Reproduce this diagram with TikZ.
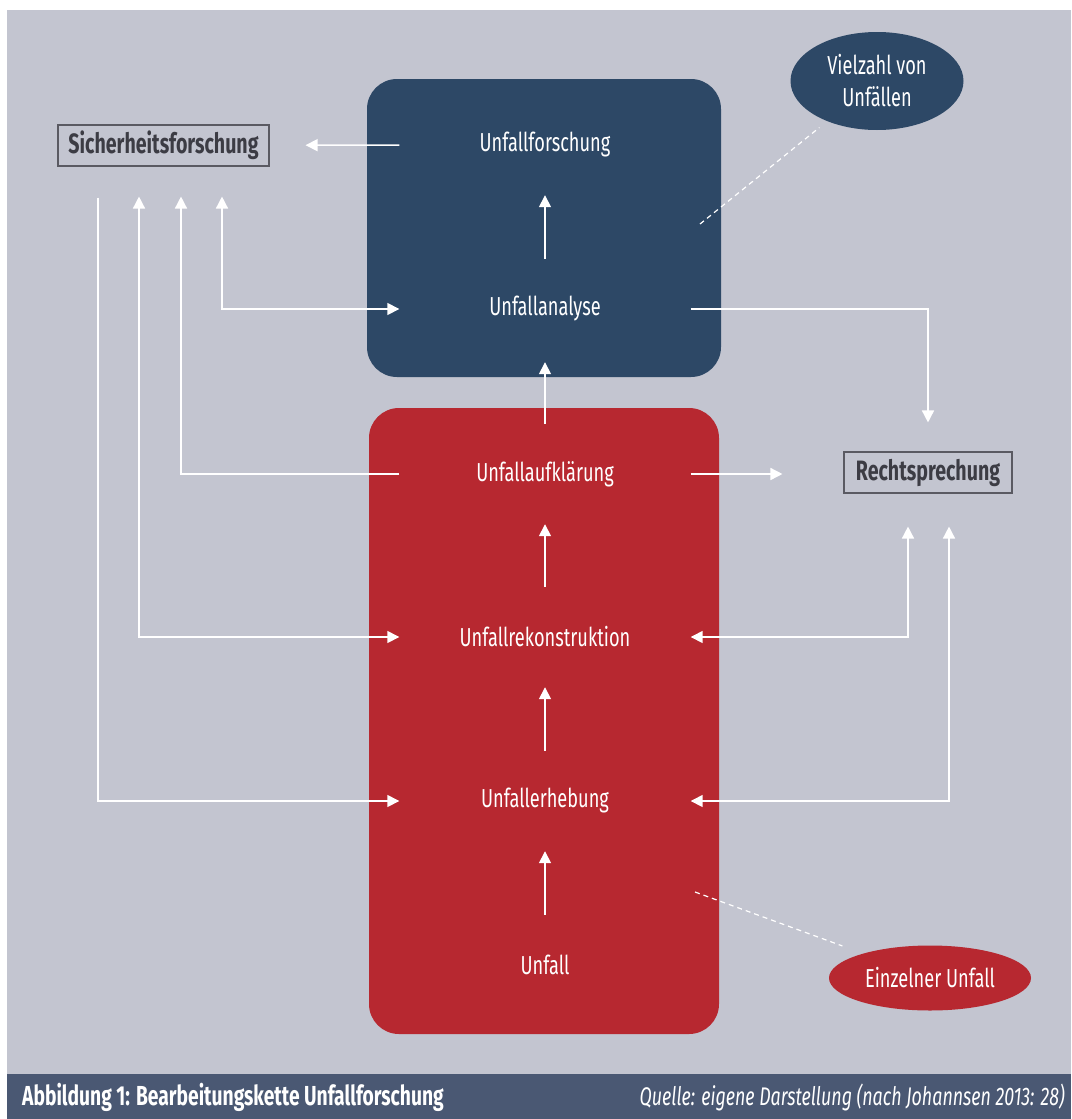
\documentclass[tikz,border=0pt]{standalone}
\usepackage{fontspec}
\setmainfont{Fira Sans}[FakeStretch=0.7]
\usetikzlibrary{shapes.geometric,arrows.meta}
\definecolor{bgray}{HTML}{C3C5D0}
\definecolor{darkblue}{HTML}{2D4866}
\definecolor{darkred}{HTML}{B72830}
\definecolor{capbar}{HTML}{4A5873}
\definecolor{boxline}{HTML}{5A5A62}
\definecolor{boxtext}{HTML}{3C3C44}
\tikzset{
  stage/.style={text=white, font=\fontsize{26}{30}\selectfont, minimum width=291pt, minimum height=100pt, inner sep=0pt},
  outbox/.style={draw=boxline, line width=1.1pt, text=boxtext, font=\fontsize{28}{30}\selectfont\bfseries, inner sep=0pt, minimum height=41pt},
  blob/.style={ellipse, text=white, font=\fontsize{26}{32}\selectfont, inner sep=0pt, align=center},
  panel/.style={rounded corners=30pt, inner sep=0pt},
  arr/.style={draw=white, line width=1.5pt, -{Triangle[length=12pt,width=12pt]}},
  arrtwo/.style={draw=white, line width=1.5pt, {Triangle[length=12pt,width=12pt]}-{Triangle[length=12pt,width=12pt]}},
  plain/.style={draw=white, line width=1.5pt},
  dashline/.style={draw=white, line width=1.2pt, dash pattern=on 5pt off 4pt},
  captext/.style={text=white, inner sep=0pt}
}
\begin{document}
\begin{tikzpicture}[x=1pt,y=-1pt]
\useasboundingbox (0,0) rectangle (1071,1119);
\fill[white] (0,0) rectangle (1071,1119);
\fill[bgray] (7,10) rectangle (1071,1074);
\fill[capbar] (7,1074) rectangle (1071,1119);

% panels
\node[panel, fill=darkblue, minimum width=354pt, minimum height=298pt] (bluebox) at (544,228) {};
\node[panel, fill=darkred, minimum width=350pt, minimum height=626pt] (redbox) at (544,721) {};

% stages
\node[stage] (forsch) at (545,145) {Unfallforschung};
\node[stage] (ana) at (545,309) {Unfallanalyse};
\node[stage] (aufkl) at (545,474) {Unfallaufklärung};
\node[stage] (rekon) at (545,637) {Unfallrekonstruktion};
\node[stage] (erheb) at (545,801) {Unfallerhebung};
\node[stage] (unfall) at (545,965) {Unfall};

% outside boxes
\node[outbox, minimum width=211pt] (sicher) at (163.5,145.5) {Sicherheitsforschung};
\node[outbox, minimum width=168pt] (recht) at (928,472.5) {Rechtsprechung};

% ellipses
\node[blob, fill=darkblue, minimum width=173pt, minimum height=98pt] (viel) at (877,81) {Vielzahl von\\Unfällen};
\node[blob, fill=darkred, minimum width=202pt, minimum height=65pt] (einzel) at (930,978) {Einzelner Unfall};

% chain
\draw[arr] (unfall) -- (erheb);
\draw[arr] (erheb) -- (rekon);
\draw[arr] (rekon) -- (aufkl);
\draw[arr, shorten >=3pt] (aufkl) -- (ana);
\draw[arr] (ana) -- (forsch);

% to Sicherheitsforschung
\draw[arr, shorten >=36pt] (forsch.west) -- (sicher);
\draw[arr] ([xshift=-65.5pt,yshift=-31pt]sicher.south) |- (erheb.west);
\draw[arrtwo] (rekon.west) -| ([xshift=-24.5pt,yshift=-30pt]sicher.south);
\draw[arr] (aufkl.west) -| ([xshift=17.5pt,yshift=-30pt]sicher.south);
\draw[arrtwo] (ana.west) -| ([xshift=58.5pt,yshift=-30pt]sicher.south);

% to Rechtsprechung
\draw[arr, shorten >=29pt] (ana.east) -| (recht.north);
\draw[arr, shorten >=61pt] (aufkl.east) -- (aufkl.east -| recht.west);
\draw[arrtwo] (rekon.east) -| ([xshift=-20pt,yshift=-33pt]recht.south);
\draw[arrtwo] (erheb.east) -| ([xshift=21pt,yshift=-33pt]recht.south);

% dashed pointers
\coordinate (dtop) at (700,224);
\coordinate (dbot) at (695,892);
\draw[dashline, shorten >=10pt] (dtop) -- (viel);
\draw[dashline, shorten >=22pt] (dbot) -- (einzel);

% caption
\node[captext, anchor=west, font=\fontsize{27.5}{30}\selectfont\bfseries] (capl) at (22,1097) {Abbildung 1: Bearbeitungskette Unfallforschung};
\node[captext, anchor=east, font=\fontsize{25.5}{30}\selectfont\itshape] (capr) at (1065,1097) {Quelle: eigene Darstellung (nach Johannsen 2013: 28)};
\end{tikzpicture}
\end{document}
